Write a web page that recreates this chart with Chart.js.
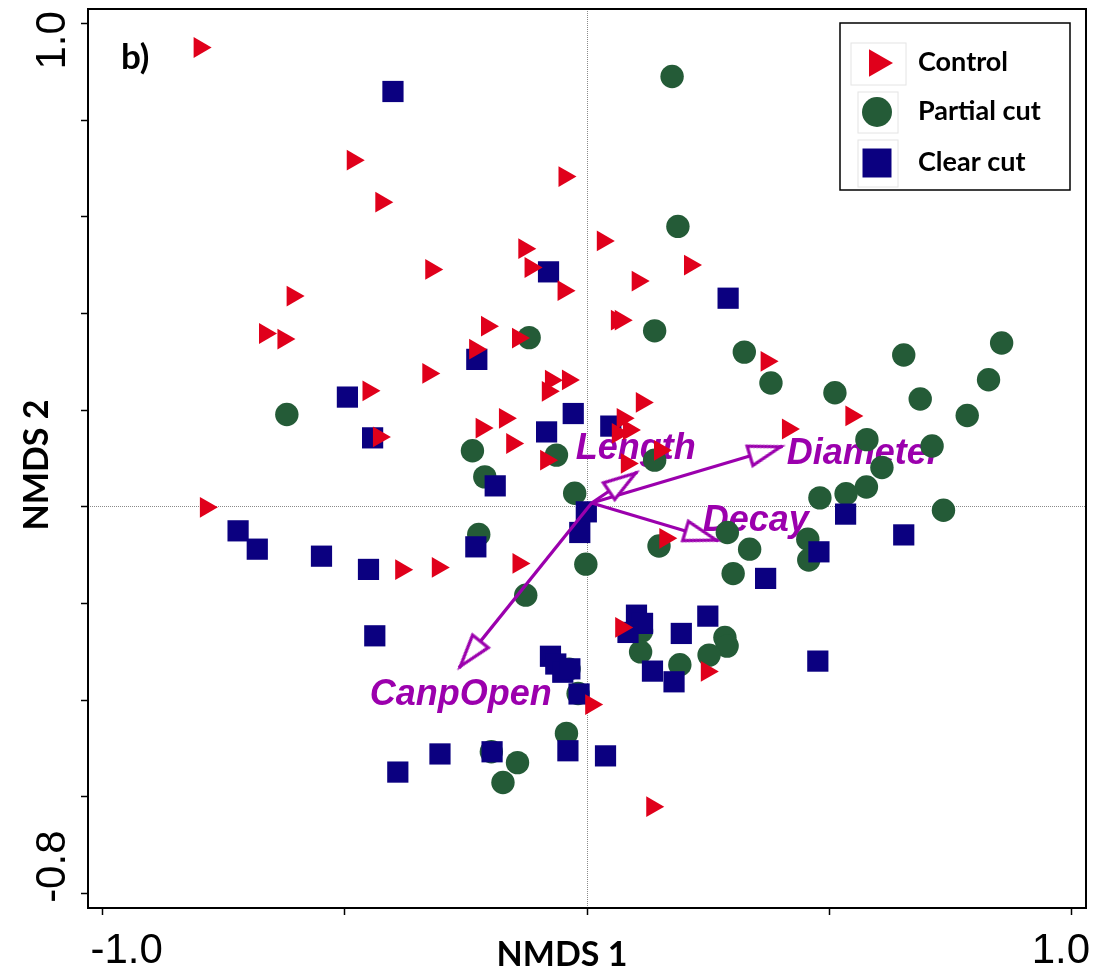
<!DOCTYPE html>
<html>
<head>
<meta charset="utf-8">
<script src="https://cdn.jsdelivr.net/npm/chart.js@4.4.1/dist/chart.umd.min.js"></script>
<style>
    html, body { margin: 0; padding: 0; background: #fff; }
    .chart-container { position: relative; width: 1106px; height: 971px; }
</style>
</head>
<body>
<div class="chart-container"><canvas id="nmdsChart"></canvas></div>
<script>
// Site scores (NMDS 1, NMDS 2)
const controlX = [-0.800, -0.484, -0.047, -0.425, -0.130, -0.117, -0.049, -0.322, -0.608, 0.032,
    0.212, 0.104, 0.061, 0.069, 0.370, 0.545, 0.414, 0.1125, 0.073, 0.086,
    0.063, 0.0815, 0.150, 0.161, -0.665, -0.627, -0.207, -0.143, -0.2315, -0.328,
    -0.0815, -0.075, -0.040, -0.4515, -0.430, -0.218, -0.170, -0.155, -0.085, -0.787,
    -0.384, -0.3085, -0.142, 0.008, 0.134, 0.070, 0.2466];
const controlY = [0.950, 0.717, 0.683, 0.630, 0.534, 0.495, 0.447, 0.491, 0.436, 0.550,
    0.500, 0.467, 0.386, 0.386, 0.301, 0.188, 0.161, 0.216, 0.183, 0.159,
    0.152, 0.0897, 0.117, -0.065, 0.3585, 0.347, 0.3736, 0.349, 0.326, 0.276,
    0.239, 0.262, 0.2626, 0.240, 0.1447, 0.163, 0.183, 0.131, 0.0966, -0.001,
    -0.130, -0.1253, -0.117, -0.409, -0.620, -0.2493, -0.3403];

const partialX = [0.175, 0.187, 0.139, 0.324, 0.379, 0.653, 0.855, 0.828, 0.511, 0.687,
    0.784, 0.577, 0.7115, 0.608, 0.576, 0.534, 0.480, 0.735, 0.455, 0.457,
    0.335, 0.289, 0.301, 0.148, -0.003, -0.026, 0.139, -0.0636, -0.120, -0.620,
    -0.237, -0.2115, -0.224, -0.127, -0.0376, -0.019, -0.043, -0.198, -0.144, -0.174,
    0.112, 0.110, 0.284, 0.2885, 0.2513, 0.191];
const partialY = [0.890, 0.580, 0.364, 0.320, 0.256, 0.314, 0.339, 0.263, 0.236, 0.223,
    0.189, 0.139, 0.126, 0.0815, 0.041, 0.027, 0.0186, -0.007, -0.067, -0.110,
    -0.0875, -0.053, -0.138, -0.081, -0.1185, 0.028, 0.0966, 0.107, 0.350, 0.191,
    0.116, 0.062, -0.057, -0.1826, -0.3355, -0.386, -0.4685, -0.5065, -0.529, -0.570,
    -0.257, -0.300, -0.270, -0.288, -0.3066, -0.3266];

const clearX = [-0.401, -0.080, 0.2906, -0.228, -0.495, -0.443, -0.029, -0.084, 0.0485, -0.190,
    -0.002, -0.0155, -0.7206, -0.681, -0.5485, -0.4515, -0.230, 0.533, 0.653, 0.478,
    0.368, 0.4757, -0.4385, -0.076, -0.065, -0.0506, -0.036, -0.017, -0.040, 0.0376,
    -0.1965, -0.304, -0.391, 0.1015, 0.114, 0.084, 0.194, 0.2487, 0.1345, 0.179];
const clearY = [0.859, 0.486, 0.4315, 0.305, 0.227, 0.1427, 0.193, 0.155, 0.167, 0.0434,
    -0.0103, -0.053, -0.0496, -0.0875, -0.102, -0.1294, -0.0827, -0.015, -0.058, -0.093,
    -0.148, -0.319, -0.2667, -0.309, -0.325, -0.342, -0.335, -0.387, -0.5044, -0.515,
    -0.5065, -0.511, -0.5485, -0.224, -0.241, -0.2597, -0.2618, -0.226, -0.3397, -0.3618];

// Fitted environmental vectors
const vectorNames = ['Length', 'Diameter', 'Decay', 'CanpOpen'];
const vectorOrigin = { x: 0.009, y: 0.008 };
const vectorTipX = [0.103, 0.403, 0.270, -0.2645];
const vectorTipY = [0.072, 0.1255, -0.070, -0.333];
const vectorLabelX = [-0.0237, 0.4117, 0.2383, -0.4488];
const vectorLabelY = [0.0986, 0.0883, -0.0502, -0.410];

// Axis ticks and the few labelled ones
const xTickValues = [-1, -0.5, 0, 0.5, 1];
const yTickValues = [-0.8, -0.6, -0.4, -0.2, 0, 0.2, 0.4, 0.6, 0.8, 1.0];
const xTickLabels = ['-1.0', '1.0'];
const xTickLabelAt = [-1, 1];
const yTickLabels = ['1.0', '-0.8'];
const yTickLabelAt = [1.0, -0.8];

const groupNames = ['Control', 'Partial cut', 'Clear cut'];

const RED = '#e0001b';
const GREEN = '#245b37';
const NAVY = '#0b0080';
const PURPLE = '#9b00ad';

function toPoints(xs, ys) {
    return xs.map((x, i) => ({ x: x, y: ys[i] }));
}

// Open arrow head, apex at the image centre, pointing right
function makeArrowHead() {
    const L = 34, H = 10, pad = 4;
    const c = document.createElement('canvas');
    c.width = 2 * (L + pad);
    c.height = 2 * (H + pad);
    const g = c.getContext('2d');
    const cx = c.width / 2, cy = c.height / 2;
    g.beginPath();
    g.moveTo(cx - 2, cy);
    g.lineTo(cx - L, cy - H);
    g.lineTo(cx - L, cy + H);
    g.closePath();
    g.fillStyle = '#fff';
    g.fill();
    g.lineWidth = 3.2;
    g.lineJoin = 'miter';
    g.strokeStyle = PURPLE;
    g.stroke();
    return c;
}
const arrowHead = makeArrowHead();

function arrowAngle(ctx) {
    const d = ctx.dataset.data;
    const xs = ctx.chart.scales.x, ys = ctx.chart.scales.y;
    const dx = xs.getPixelForValue(d[1].x) - xs.getPixelForValue(d[0].x);
    const dy = ys.getPixelForValue(d[1].y) - ys.getPixelForValue(d[0].y);
    return Math.atan2(dy, dx) * 180 / Math.PI;
}

const groupDatasets = [
    {
        label: groupNames[0],
        data: toPoints(controlX, controlY),
        pointStyle: 'triangle',
        pointRotation: 90,
        pointRadius: 12,
        backgroundColor: RED,
        pointBorderWidth: 0,
        order: 1
    },
    {
        label: groupNames[1],
        data: toPoints(partialX, partialY),
        pointStyle: 'circle',
        pointRadius: 11.7,
        backgroundColor: GREEN,
        pointBorderWidth: 0,
        order: 3
    },
    {
        label: groupNames[2],
        data: toPoints(clearX, clearY),
        pointStyle: 'rect',
        pointRadius: 15,
        backgroundColor: NAVY,
        pointBorderWidth: 0,
        order: 2
    }
];

const vectorDatasets = vectorNames.map((name, i) => ({
    label: name,
    data: [{ x: vectorOrigin.x, y: vectorOrigin.y }, { x: vectorTipX[i], y: vectorTipY[i] }],
    showLine: true,
    borderColor: PURPLE,
    borderWidth: 3.2,
    pointStyle: arrowHead,
    pointRadius: [0, 10],
    pointRotation: arrowAngle,
    pointBorderWidth: 0,
    order: 0
}));

// Frame, labels, legend
const decorPlugin = {
    id: 'decor',
    beforeDatasetsDraw(chart) {
        const { ctx, scales: { x, y } } = chart;
        ctx.save();
        ctx.font = 'italic bold 36px "Liberation Sans", Arial, sans-serif';
        ctx.fillStyle = PURPLE;
        ctx.textAlign = 'left';
        ctx.textBaseline = 'alphabetic';
        vectorNames.forEach((name, i) => {
            ctx.fillText(name, x.getPixelForValue(vectorLabelX[i]), y.getPixelForValue(vectorLabelY[i]));
        });
        ctx.restore();
    },
    afterDraw(chart) {
        const { ctx, chartArea: a, scales: { x, y } } = chart;
        ctx.save();

        // plot frame
        ctx.strokeStyle = '#000';
        ctx.lineWidth = 2;
        ctx.strokeRect(a.left, a.top, a.right - a.left, a.bottom - a.top);

        // tick labels
        ctx.fillStyle = '#000';
        ctx.font = '42px "Liberation Sans", Arial, sans-serif';
        ctx.textAlign = 'center';
        ctx.textBaseline = 'alphabetic';
        const xShift = [24, -11];
        xTickLabels.forEach((t, i) => {
            ctx.fillText(t, x.getPixelForValue(xTickLabelAt[i]) + xShift[i], 963);
        });
        const yShift = [17, -27];
        yTickLabels.forEach((t, i) => {
            ctx.save();
            ctx.translate(65, y.getPixelForValue(yTickLabelAt[i]) + yShift[i]);
            ctx.rotate(-Math.PI / 2);
            ctx.fillText(t, 0, 0);
            ctx.restore();
        });

        // axis titles
        ctx.font = 'bold 34px Lato, "Open Sans", sans-serif';
        ctx.fillText('NMDS 1', 562, 966);
        ctx.save();
        ctx.translate(48, 465);
        ctx.rotate(-Math.PI / 2);
        ctx.fillText('NMDS 2', 0, 0);
        ctx.restore();

        // panel letter
        ctx.textAlign = 'left';
        ctx.font = 'bold 35px Lato, "Open Sans", sans-serif';
        ctx.fillText('b)', 121, 69);

        // legend
        ctx.lineWidth = 1.5;
        ctx.strokeStyle = '#000';
        ctx.strokeRect(840, 23, 230, 167);
        const rowY = [63, 112, 163];
        const iconR = [16, 15, 20.5];
        const iconBox = [[851, 43, 55, 42], [858, 92, 40, 41], [858, 140, 40, 47]];
        ctx.font = 'bold 27px Lato, "Open Sans", sans-serif';
        groupDatasets.forEach((ds, i) => {
            ctx.strokeStyle = '#e4e4e4';
            ctx.lineWidth = 1;
            ctx.strokeRect(iconBox[i][0], iconBox[i][1], iconBox[i][2], iconBox[i][3]);
            ctx.fillStyle = ds.backgroundColor;
            Chart.helpers.drawPoint(ctx, {
                pointStyle: ds.pointStyle,
                rotation: ds.pointRotation || 0,
                radius: iconR[i],
                borderWidth: 0
            }, 877, rowY[i]);
            ctx.fillStyle = '#000';
            ctx.textBaseline = 'middle';
            ctx.fillText(ds.label, 918, rowY[i] - 1);
        });

        ctx.restore();
    }
};

const zeroLine = (c) => (c.tick && c.tick.value === 0 ? '#8a8a8a' : 'rgba(0,0,0,0)');

const ctx = document.getElementById('nmdsChart').getContext('2d');
const nmdsChart = new Chart(ctx, {
    type: 'scatter',
    data: { datasets: [...vectorDatasets, ...groupDatasets] },
    options: {
        responsive: true,
        maintainAspectRatio: false,
        animation: false,
        events: [],
        layout: { autoPadding: false, padding: { left: 81, right: 20, top: 9, bottom: 56 } },
        plugins: { legend: { display: false }, tooltip: { enabled: false } },
        scales: {
            x: {
                type: 'linear',
                min: -1.0303,
                max: 1.0291,
                afterBuildTicks: (s) => { s.ticks = xTickValues.map(v => ({ value: v })); },
                ticks: { display: false },
                grid: { color: zeroLine, lineWidth: 1, drawTicks: true, tickLength: 7, tickColor: '#000', tickWidth: 1.5 },
                border: { display: false, dash: [1, 1] }
            },
            y: {
                type: 'linear',
                min: -0.8296,
                max: 1.0296,
                afterBuildTicks: (s) => { s.ticks = yTickValues.map(v => ({ value: v })); },
                ticks: { display: false },
                grid: { color: zeroLine, lineWidth: 1, drawTicks: true, tickLength: 7, tickColor: '#000', tickWidth: 1.5 },
                border: { display: false, dash: [1, 1] }
            }
        }
    },
    plugins: [decorPlugin]
});
</script>
</body>
</html>
